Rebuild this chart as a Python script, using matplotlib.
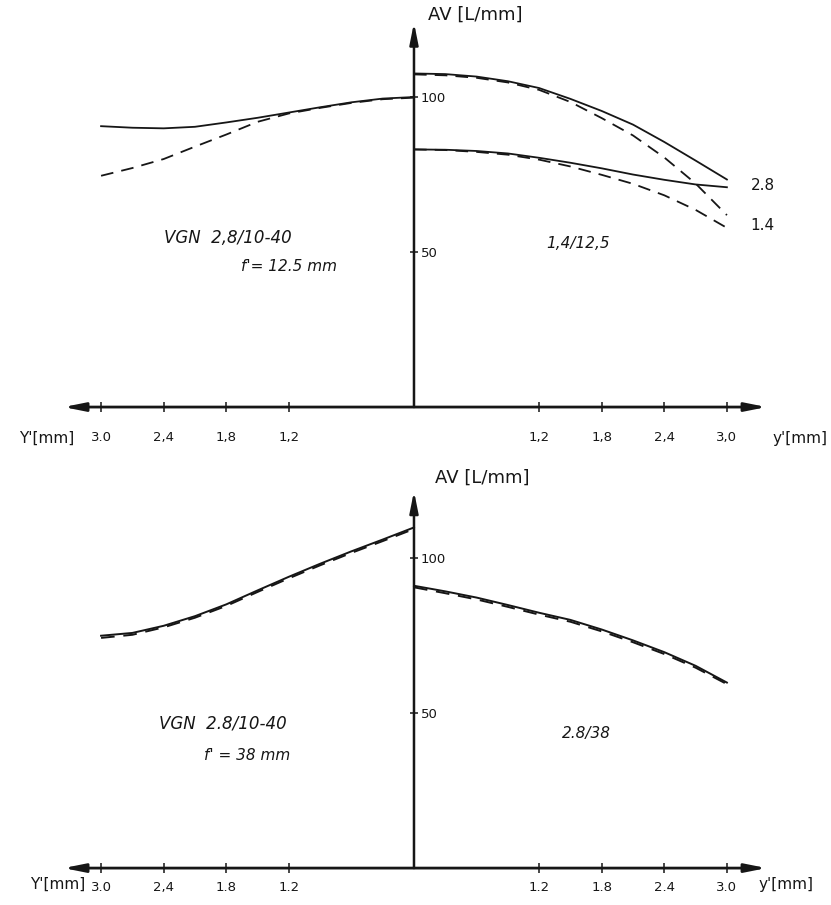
import matplotlib
matplotlib.use("Agg")
from matplotlib import pyplot as plt

# field height y' in mm (left half drawn mirrored, right half positive)
y_left = [-3.0, -2.7, -2.4, -2.1, -1.8, -1.5, -1.2, -0.9, -0.6, -0.3, 0.0]
y_right = [0.0, 0.3, 0.6, 0.9, 1.2, 1.5, 1.8, 2.1, 2.4, 2.7, 3.0]

# --- top panel: VGN 2.8/10-40 at f'=12.5 mm (left) vs 1.4/12.5 (right)
top_left_solid = [90.6, 90.1, 89.9, 90.4, 91.8, 93.3, 95.0, 96.7, 98.3, 99.5, 100.0]
top_left_dash = [74.6, 77.1, 80.0, 84.0, 87.9, 92.0, 94.7, 96.5, 98.1, 99.3, 99.8]
top_r14_solid = [107.6, 107.4, 106.6, 105.1, 102.9, 99.4, 95.5, 91.1, 85.5, 79.5, 73.4]
top_r14_dash = [107.3, 107.0, 106.2, 104.7, 102.3, 98.4, 93.2, 87.6, 80.5, 72.1, 61.9]
top_r28_solid = [83.1, 83.0, 82.6, 81.8, 80.4, 78.8, 77.0, 75.0, 73.3, 71.8, 70.9]
top_r28_dash = [83.1, 82.9, 82.3, 81.4, 79.8, 77.6, 74.9, 72.0, 68.3, 63.6, 57.8]

# --- bottom panel: VGN 2.8/10-40 at f'=38 mm (left) vs 2.8/38 (right)
bot_left_solid = [74.9, 75.8, 78.1, 81.2, 85.0, 89.5, 93.9, 98.1, 102.1, 105.9, 109.8]
bot_left_dash = [74.2, 75.2, 77.6, 80.7, 84.5, 89.0, 93.4, 97.6, 101.6, 105.4, 109.3]
bot_right_solid = [91.0, 89.2, 87.2, 84.8, 82.3, 80.0, 76.9, 73.4, 69.6, 65.2, 59.8]
bot_right_dash = [90.5, 88.6, 86.6, 84.2, 81.7, 79.4, 76.3, 72.8, 69.0, 64.6, 59.3]

x_ticks = [-3.0, -2.4, -1.8, -1.2, 1.2, 1.8, 2.4, 3.0]
top_xlabels = ["3.0", "2,4", "1,8", "1,2", "1,2", "1,8", "2,4", "3,0"]
bot_xlabels = ["3.0", "2,4", "1.8", "1.2", "1.2", "1.8", "2.4", "3.0"]
y_ticks = [50, 100]
y_ticklabels = ["50", "100"]

INK = "#161616"
DASH = (7, 4.5)


def draw_frame(ax, ylim, ytop, xlabels, pad):
    ax.set_xlim(-3.969, 3.998)
    ax.set_ylim(*ylim)
    for s in ax.spines.values():
        s.set_color("none")
    ax.spines["bottom"].set_position(("data", 0))
    ax.spines["right"].set_position(("data", 0))
    ax.yaxis.tick_right()
    ax.set_xticks(x_ticks)
    ax.set_xticklabels(xlabels)
    ax.set_yticks(y_ticks)
    ax.set_yticklabels(y_ticklabels)
    ax.tick_params(axis="x", direction="inout", length=7, width=1.1,
                   color=INK, labelcolor=INK, labelsize=9.5, pad=pad)
    ax.tick_params(axis="y", direction="inout", length=6, width=1.1,
                   color=INK, labelcolor=INK, labelsize=9.5, pad=2)
    ax.patch.set_alpha(0)
    # the two drawn axes with arrow heads
    ax.annotate("", xy=(3.38, 0), xytext=(-3.36, 0),
                arrowprops=dict(arrowstyle="<|-|>,head_length=0.9,head_width=0.18",
                                lw=2.0, color=INK, shrinkA=0, shrinkB=0,
                                mutation_scale=14))
    ax.annotate("", xy=(0, ytop), xytext=(0, 0),
                arrowprops=dict(arrowstyle="-|>,head_length=0.9,head_width=0.18",
                                lw=1.8, color=INK, shrinkA=0, shrinkB=0,
                                mutation_scale=14))


fig = plt.figure(figsize=(8.31, 9.05), dpi=100)
fig.patch.set_facecolor("white")

ax1 = fig.add_axes([0, 453 / 905, 1, 452 / 905])
ax2 = fig.add_axes([0, 0, 1, 452 / 905])

draw_frame(ax1, (-14.5, 131.3), 124, top_xlabels, 14)
draw_frame(ax2, (-11.9, 133.8), 121.5, bot_xlabels, 6)

# top curves
ax1.plot(y_left, top_left_solid, color=INK, lw=1.3)
ax1.plot(y_left, top_left_dash, color=INK, lw=1.3, dashes=DASH)
ax1.plot(y_right, top_r14_solid, color=INK, lw=1.3)
ax1.plot(y_right, top_r14_dash, color=INK, lw=1.3, dashes=DASH)
ax1.plot(y_right, top_r28_solid, color=INK, lw=1.3)
ax1.plot(y_right, top_r28_dash, color=INK, lw=1.3, dashes=DASH)

# bottom curves
ax2.plot(y_left, bot_left_solid, color=INK, lw=1.4)
ax2.plot(y_left, bot_left_dash, color=INK, lw=1.4, dashes=DASH)
ax2.plot(y_right, bot_right_solid, color=INK, lw=1.4)
ax2.plot(y_right, bot_right_dash, color=INK, lw=1.4, dashes=DASH)

tk = dict(color=INK, va="center")

# top panel texts
ax1.text(0.13, 126.5, "AV [L/mm]", fontsize=13, ha="left", **tk)
ax1.text(-2.40, 54.5, "VGN  2,8/10-40", fontsize=12, style="italic", ha="left", **tk)
ax1.text(-1.66, 45.2, "f'= 12.5 mm", fontsize=11, style="italic", ha="left", **tk)
ax1.text(1.27, 52.9, "1,4/12,5", fontsize=11, style="italic", ha="left", **tk)
ax1.text(3.35, 71.6, "2.8", fontsize=11, ha="center", **tk)
ax1.text(3.34, 58.4, "1.4", fontsize=11, ha="center", **tk)
ax1.text(-3.52, -10.2, "Y'[mm]", fontsize=11, ha="center", **tk)
ax1.text(3.70, -10.2, "y'[mm]", fontsize=11, ha="center", **tk)

# bottom panel texts
ax2.text(0.20, 125.7, "AV [L/mm]", fontsize=13, ha="left", **tk)
ax2.text(-2.44, 46.6, "VGN  2.8/10-40", fontsize=12, style="italic", ha="left", **tk)
ax2.text(-2.01, 36.3, "f' = 38 mm", fontsize=11, style="italic", ha="left", **tk)
ax2.text(1.42, 43.4, "2.8/38", fontsize=11, style="italic", ha="left", **tk)
ax2.text(-3.42, -5.3, "Y'[mm]", fontsize=11, ha="center", **tk)
ax2.text(3.57, -5.3, "y'[mm]", fontsize=11, ha="center", **tk)

fig.savefig("out.png", dpi=100, facecolor="white")
